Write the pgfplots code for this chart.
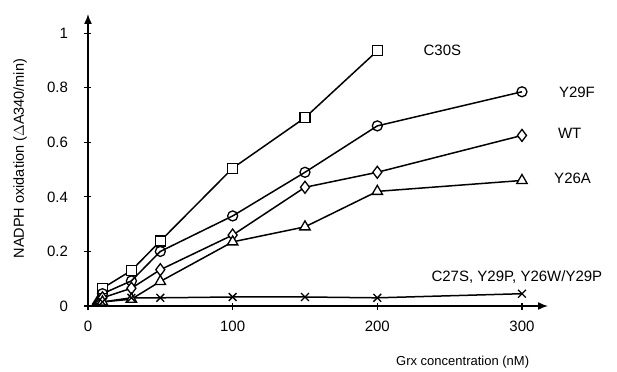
\documentclass[border=0pt]{standalone}
\usepackage{fontspec}
\setmainfont{Liberation Sans}
\usepackage{pgfplots}
\pgfplotsset{compat=1.18}
\usetikzlibrary{arrows.meta}
\begin{document}
\begin{tikzpicture}
\begin{axis}[
  scale only axis,
  width=460bp, height=292bp,
  xmin=0, xmax=318, ymin=0, ymax=1.07,
  axis x line=bottom, axis y line=left,
  axis line style={line width=1.5bp, -{Latex[length=10bp,width=8bp]}},
  xtick={0,100,200,300}, ytick={0,0.2,0.4,0.6,0.8,1},
  yticklabels={0\hspace{15bp},0.2,0.4,0.6,0.8,1\hspace{4bp}},
  tick align=center, major tick length=7bp,
  tick style={line width=1.1bp, black},
  /pgf/number format/assume math mode=true,
  ticklabel style={font=\fontsize{15bp}{17bp}\selectfont},
  xticklabel style={yshift=-8bp},
  yticklabel style={anchor=east, xshift=-13bp},
  clip=false,
  every axis plot/.append style={line width=1.5bp, black, mark options={solid, fill=white, line width=1.3bp}},
]
\addplot[mark=square*, mark size=5bp, mark indices={2,3,4,5,6,7}] coordinates {(3,0.005)(10,0.065)(30,0.13)(50,0.238)(100,0.505)(150,0.69)(200,0.935)};
\addplot[mark=o, mark size=5bp, mark indices={2,3,4,5,6,7,8}] coordinates {(3,0.005)(10,0.045)(30,0.092)(50,0.2)(100,0.33)(150,0.49)(200,0.66)(300,0.785)};
\addplot[mark=diamond*, mark size=6bp, mark indices={2,3,4,5,6,7,8}] coordinates {(3,0.005)(10,0.03)(30,0.065)(50,0.133)(100,0.26)(150,0.435)(200,0.49)(300,0.625)};
\addplot[mark=triangle*, mark size=6bp, mark indices={2,3,4,5,6,7,8}] coordinates {(3,0.003)(10,0.015)(30,0.025)(50,0.09)(100,0.235)(150,0.29)(200,0.42)(300,0.46)};
\addplot[mark=x, mark size=5.5bp, mark indices={2,3,4,5,6,7,8}] coordinates {(3,0.003)(10,0.015)(30,0.03)(50,0.03)(100,0.033)(150,0.033)(200,0.03)(300,0.045)};
\node[font=\fontsize{15bp}{17bp}\selectfont] at (axis cs:245,0.938) {C30S};
\node[font=\fontsize{15bp}{17bp}\selectfont] at (axis cs:338,0.784) {Y29F};
\node[font=\fontsize{15bp}{17bp}\selectfont] at (axis cs:333,0.634) {WT};
\node[font=\fontsize{15bp}{17bp}\selectfont] at (axis cs:335,0.469) {Y26A};
\node[font=\fontsize{15bp}{17bp}\selectfont] at (axis cs:296.5,0.106) {C27S, Y29P, Y26W/Y29P};
\node[font=\fontsize{13bp}{15bp}\selectfont] at (axis cs:259,-0.205) {Grx concentration (nM)};
\node[font=\fontsize{14.5bp}{16bp}\selectfont, rotate=90] at (axis cs:-47,0.54) {NADPH oxidation ($\Delta$A340/min)};
\coordinate (O) at (axis cs:0,0);
\end{axis}
\path (O) ++(-88bp,-64bp) rectangle ++(617bp,370bp);
\end{tikzpicture}
\end{document}
